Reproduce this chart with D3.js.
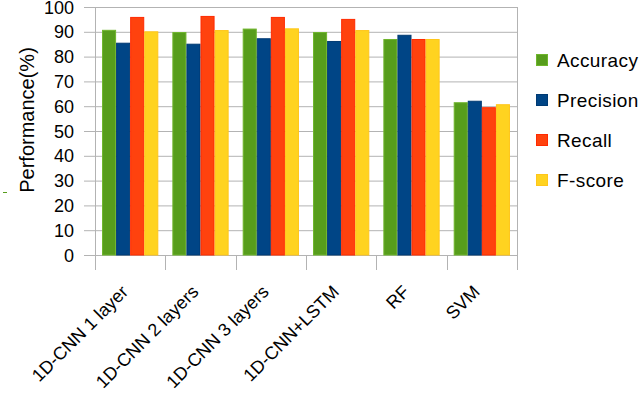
<!DOCTYPE html>
<html>
<head>
<meta charset="utf-8">
<script src="https://cdn.jsdelivr.net/npm/d3@7"></script>
<style>
  body { margin: 0; background: #fff; }
  text { font-family: "Liberation Sans", Arial, sans-serif; fill: #000; }
</style>
</head>
<body>
<svg id="chart"></svg>
<script>
// données
const categories = ['1D-CNN 1 layer', '1D-CNN 2 layers', '1D-CNN 3 layers', '1D-CNN+LSTM', 'RF', 'SVM'];
const seriesNames = ['Accuracy', 'Precision', 'Recall', 'F-score'];
const accuracy = [90.8, 89.9, 91.3, 89.9, 87.1, 61.6];
const precision = [85.6, 85.2, 87.4, 86.3, 88.8, 62.2];
const recall = [96.0, 96.4, 96.0, 95.2, 87.1, 59.6];
const fscore = [90.2, 90.7, 91.4, 90.7, 87.1, 60.8];
const yTicks = [0, 10, 20, 30, 40, 50, 60, 70, 80, 90, 100];

const colors = ['#579d1c', '#004586', '#ff420e', '#ffd320'];
const strokes = ['#6fb52c', '#003a73', '#ff2a00', '#ffc61a'];

drawChart();

function drawChart() {
    const width = 640;
    const height = 393;
    const left = 95, right = 517, top = 7, bottom = 255;

    const svg = d3.select('#chart')
        .attr('width', width)
        .attr('height', height);

    const values = [accuracy, precision, recall, fscore];

    const x = d3.scaleBand()
        .domain(categories)
        .range([left, right])
        .padding(0);

    const xInner = d3.scaleBand()
        .domain(seriesNames)
        .range([0, x.bandwidth()])
        .paddingInner(0)
        .paddingOuter(0.5);

    const y = d3.scaleLinear()
        .domain([0, 100])
        .range([bottom, top]);

    // grille horizontale
    svg.append('g')
        .selectAll('line')
        .data(yTicks)
        .enter()
        .append('line')
        .attr('x1', left - 11)
        .attr('x2', right)
        .attr('y1', d => y(d) + 0.5)
        .attr('y2', d => y(d) + 0.5)
        .style('stroke', '#b3b3b3')
        .style('stroke-width', 1);

    // bordure droite et axe gauche
    svg.append('line')
        .attr('x1', right + 0.5).attr('x2', right + 0.5)
        .attr('y1', top).attr('y2', bottom + 15)
        .style('stroke', '#b3b3b3');
    svg.append('line')
        .attr('x1', left + 0.5).attr('x2', left + 0.5)
        .attr('y1', top).attr('y2', bottom + 15)
        .style('stroke', '#b3b3b3');

    // graduations x
    const bounds = categories.map(c => x(c)).concat([right]);
    svg.append('g')
        .selectAll('line')
        .data(bounds.slice(1, -1))
        .enter()
        .append('line')
        .attr('x1', d => Math.round(d) + 0.5)
        .attr('x2', d => Math.round(d) + 0.5)
        .attr('y1', bottom)
        .attr('y2', bottom + 15)
        .style('stroke', '#b3b3b3');

    // barres
    const groups = svg.append('g')
        .selectAll('g')
        .data(categories)
        .enter()
        .append('g')
        .attr('transform', c => `translate(${x(c)},0)`);

    groups.selectAll('rect')
        .data((c, i) => seriesNames.map((s, j) => ({ s: s, j: j, v: values[j][i] })))
        .enter()
        .append('rect')
        .attr('x', d => xInner(d.s) + 0.5)
        .attr('y', d => y(d.v) + 0.5)
        .attr('width', xInner.bandwidth() - 1)
        .attr('height', d => y(0) - y(d.v) - 0.5)
        .style('fill', d => colors[d.j])
        .style('stroke', d => strokes[d.j])
        .style('stroke-width', 1);

    // libellés axe y
    svg.append('g')
        .selectAll('text')
        .data(yTicks)
        .enter()
        .append('text')
        .attr('x', 74)
        .attr('y', d => y(d) + 6.5)
        .attr('text-anchor', 'end')
        .style('font-size', '18px')
        .text(d => d);

    // libellés axe x
    svg.append('g')
        .selectAll('text')
        .data(categories)
        .enter()
        .append('text')
        .attr('text-anchor', 'end')
        .attr('transform', c => `translate(${x(c) + x.bandwidth() / 2 - 1},293) rotate(-45)`)
        .style('font-size', '18px')
        .text(c => c);

    // titre axe y
    svg.append('text')
        .attr('text-anchor', 'middle')
        .attr('transform', 'translate(34,120) rotate(-90)')
        .style('font-size', '20px')
        .text('Performance(%)');

    svg.append('line')
        .attr('x1', 3).attr('x2', 7)
        .attr('y1', 192.5).attr('y2', 192.5)
        .style('stroke', '#579d1c');

    // légende
    const legend = svg.append('g')
        .selectAll('g')
        .data(seriesNames)
        .enter()
        .append('g')
        .attr('transform', (d, i) => `translate(536,${60 + i * 40})`);

    legend.append('rect')
        .attr('x', 0.5)
        .attr('y', -5.5)
        .attr('width', 11)
        .attr('height', 11)
        .style('fill', (d, i) => colors[i])
        .style('stroke', (d, i) => strokes[i]);

    legend.append('text')
        .attr('x', 21)
        .attr('y', 6.5)
        .style('font-size', '19px')
        .style('letter-spacing', '0.4px')
        .text(d => d);
}
</script>
</body>
</html>
